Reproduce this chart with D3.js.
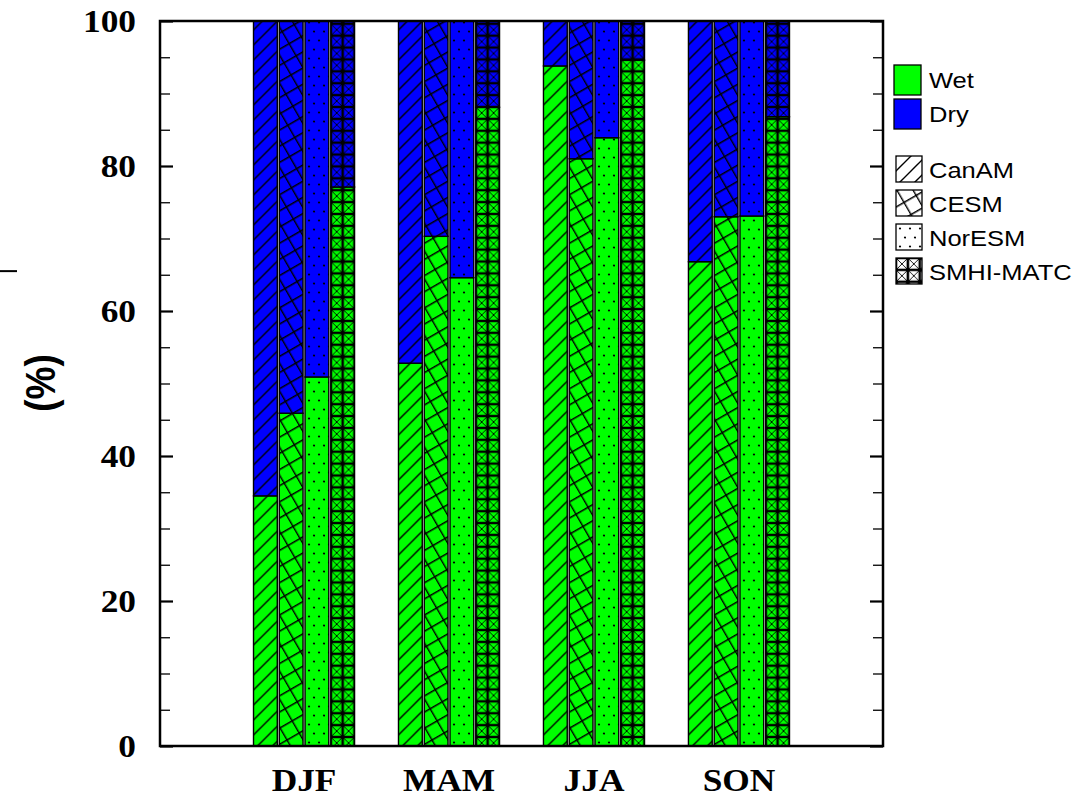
<!DOCTYPE html>
<html><head><meta charset="utf-8">
<script src="https://cdn.jsdelivr.net/npm/d3@7"></script>
<style>body{margin:0;background:#fff}svg{display:block}</style>
</head><body>
<svg id="chart" width="1078" height="798"></svg>
<script>
// ---- data ----
const seasons = ["DJF", "MAM", "JJA", "SON"];
const models = ["CanAM", "CESM", "NorESM", "SMHI-MATC"];
const wetCanAM  = [34.5, 52.8, 93.8, 66.8];
const wetCESM   = [45.9, 70.3, 81.0, 73.0];
const wetNorESM = [50.9, 64.6, 83.9, 73.1];
const wetSMHI   = [77.1, 88.1, 94.6, 86.8];
const dryCanAM  = [65.5, 47.2, 6.2, 33.2];
const dryCESM   = [54.1, 29.7, 19.0, 27.0];
const dryNorESM = [49.1, 35.4, 16.1, 26.9];
const drySMHI   = [22.9, 11.9, 5.4, 13.2];
const yTicks = [0, 20, 40, 60, 80, 100];
const legendTypes = ["Wet", "Dry"];
const typeColors = ["#00ff00", "#0000ff"];

const wet = [wetCanAM, wetCESM, wetNorESM, wetSMHI];
const dry = [dryCanAM, dryCESM, dryNorESM, drySMHI];
const patternIds = ["pCan", "pCesm", "pNor", "pSmhi"];

// ---- layout ----
const L = 160, R = 883, T = 21, B = 746;
const SX = 1.14; // horizontal text stretch seen in the reference
const svg = d3.select("#chart");

const x0 = d3.scaleBand().domain(seasons).range([L, R]).paddingInner(0.303).paddingOuter(0.645);
const x1 = d3.scaleBand().domain(models).range([0, x0.bandwidth()]).paddingInner(0.077).paddingOuter(0);
const y = d3.scaleLinear().domain([0, 100]).range([B, T]);
const bw = x1.bandwidth();

// ---- patterns (origin at each bar's left edge) ----
const defs = svg.append("defs");
{
  const p = defs.append("pattern").attr("id", "pCan").attr("patternUnits", "userSpaceOnUse")
    .attr("width", 15).attr("height", 15);
  p.append("path").attr("d", "M-2,17 L17,-2 M-2,2 L2,-2 M13,17 L17,13")
    .attr("stroke", "#000").attr("stroke-width", 1.4).attr("fill", "none");
}
{
  const p = defs.append("pattern").attr("id", "pCesm").attr("patternUnits", "userSpaceOnUse")
    .attr("width", 14).attr("height", 14).attr("patternTransform", "rotate(-30)");
  p.append("path").attr("d", "M0,0.7 L14,0.7 M0.7,0 L0.7,14")
    .attr("stroke", "#000").attr("stroke-width", 1.4).attr("fill", "none");
}
{
  const p = defs.append("pattern").attr("id", "pNor").attr("patternUnits", "userSpaceOnUse")
    .attr("width", 10).attr("height", 18);
  p.append("circle").attr("cx", 4).attr("cy", 4.5).attr("r", 1.1).attr("fill", "#000");
  p.append("circle").attr("cx", 9).attr("cy", 13.5).attr("r", 1.1).attr("fill", "#000");
}
{
  const c = bw / 2;
  const p = defs.append("pattern").attr("id", "pSmhi").attr("patternUnits", "userSpaceOnUse")
    .attr("width", c).attr("height", c);
  p.append("path").attr("d", `M0,0 L${c},${c} M${c},0 L0,${c}`)
    .attr("stroke", "#000").attr("stroke-width", 0.9).attr("fill", "none");
  p.append("path").attr("d", `M0,0 L${c},0 M0,${c} L${c},${c} M0,0 L0,${c} M${c},0 L${c},${c}`)
    .attr("stroke", "#000").attr("stroke-width", 2.6).attr("fill", "none");
}

// ---- bars ----
const gBars = svg.append("g");
models.forEach((m, mi) => {
  seasons.forEach((s, si) => {
    const bx = x0(s) + x1(m);
    const g = gBars.append("g").attr("transform", `translate(${bx},0)`);
    const w = wet[mi][si], d = dry[mi][si];
    const segs = [
      {y0: 0, y1: w, c: typeColors[0]},
      {y0: w, y1: w + d, c: typeColors[1]}
    ];
    segs.forEach(sg => {
      g.append("rect").attr("x", 0).attr("y", y(sg.y1)).attr("width", bw)
        .attr("height", y(sg.y0) - y(sg.y1)).attr("fill", sg.c);
      g.append("rect").attr("x", 0).attr("y", y(sg.y1)).attr("width", bw)
        .attr("height", y(sg.y0) - y(sg.y1)).attr("fill", `url(#${patternIds[mi]})`)
        .attr("stroke", "#000").attr("stroke-width", 1.4);
    });
  });
});

// ---- axes ----
const minor = d3.range(0, 101, 5);
const axL = d3.axisRight(y).tickValues(minor).tickSize(10).tickFormat("");
const gL = svg.append("g").attr("transform", `translate(${L},0)`).call(axL);
const axR = d3.axisLeft(y).tickValues(minor).tickSize(10).tickFormat("");
const gR = svg.append("g").attr("transform", `translate(${R},0)`).call(axR);
[gL, gR].forEach(g => {
  g.select(".domain").remove();
  g.selectAll(".tick line").attr("stroke", "#000").attr("stroke-width", 1.3);
  g.selectAll(".tick").filter(d => d % 20 === 0).select("line")
    .attr("stroke-width", 2.2).attr("x2", function() { return +d3.select(this).attr("x2") > 0 ? 13 : -13; });
});

// frame
svg.append("rect").attr("x", L).attr("y", T).attr("width", R - L).attr("height", B - T)
  .attr("fill", "none").attr("stroke", "#000").attr("stroke-width", 2.5);

// y tick labels
svg.append("g").selectAll("text").data(yTicks).join("text")
  .attr("transform", d => `translate(136,${y(d)}) scale(${SX},1)`)
  .attr("dy", "0.35em")
  .attr("text-anchor", "end")
  .attr("font-family", "Liberation Serif, Times New Roman, serif")
  .attr("font-weight", "bold").attr("font-size", 31)
  .text(d => d);

// x labels
svg.append("g").selectAll("text").data(seasons).join("text")
  .attr("transform", d => `translate(${x0(d) + x0.bandwidth() / 2},791) scale(${SX},1)`)
  .attr("text-anchor", "middle")
  .attr("font-family", "Liberation Serif, Times New Roman, serif")
  .attr("font-weight", "bold").attr("font-size", 31)
  .text(d => d);

// y axis title
svg.append("text").attr("transform", `translate(40,383) scale(${SX},1) rotate(-90)`)
  .attr("text-anchor", "middle").attr("dy", "0.35em")
  .attr("font-family", "Liberation Sans, Arial, sans-serif")
  .attr("font-weight", "bold").attr("font-size", 37)
  .text("(%)");

// stray tick mark at left edge
svg.append("line").attr("x1", 0).attr("x2", 17).attr("y1", y(65.5)).attr("y2", y(65.5))
  .attr("stroke", "#000").attr("stroke-width", 2);

// ---- legend ----
const lg = svg.append("g");
legendTypes.forEach((t, i) => {
  const yy = 65 + i * 34;
  lg.append("rect").attr("x", 894).attr("y", yy).attr("width", 27).attr("height", 30)
    .attr("fill", typeColors[i]).attr("stroke", "#000").attr("stroke-width", 1.3);
  lg.append("text").attr("transform", `translate(929,${yy + 15}) scale(1.16,1)`).attr("dy", "0.35em")
    .attr("font-family", "Liberation Sans, Arial, sans-serif").attr("font-size", 22)
    .text(t);
});
models.forEach((m, i) => {
  const yy = 156 + i * 34;
  const g = lg.append("g").attr("transform", `translate(896,${yy})`);
  g.append("rect").attr("width", 26).attr("height", 26).attr("fill", "#fff");
  g.append("rect").attr("width", 26).attr("height", 26)
    .attr("fill", `url(#${patternIds[i]})`).attr("stroke", "#000").attr("stroke-width", 1.3);
  lg.append("text").attr("transform", `translate(929,${yy + 14}) scale(1.16,1)`).attr("dy", "0.35em")
    .attr("font-family", "Liberation Sans, Arial, sans-serif").attr("font-size", 22)
    .text(m);
});
</script>
</body></html>
